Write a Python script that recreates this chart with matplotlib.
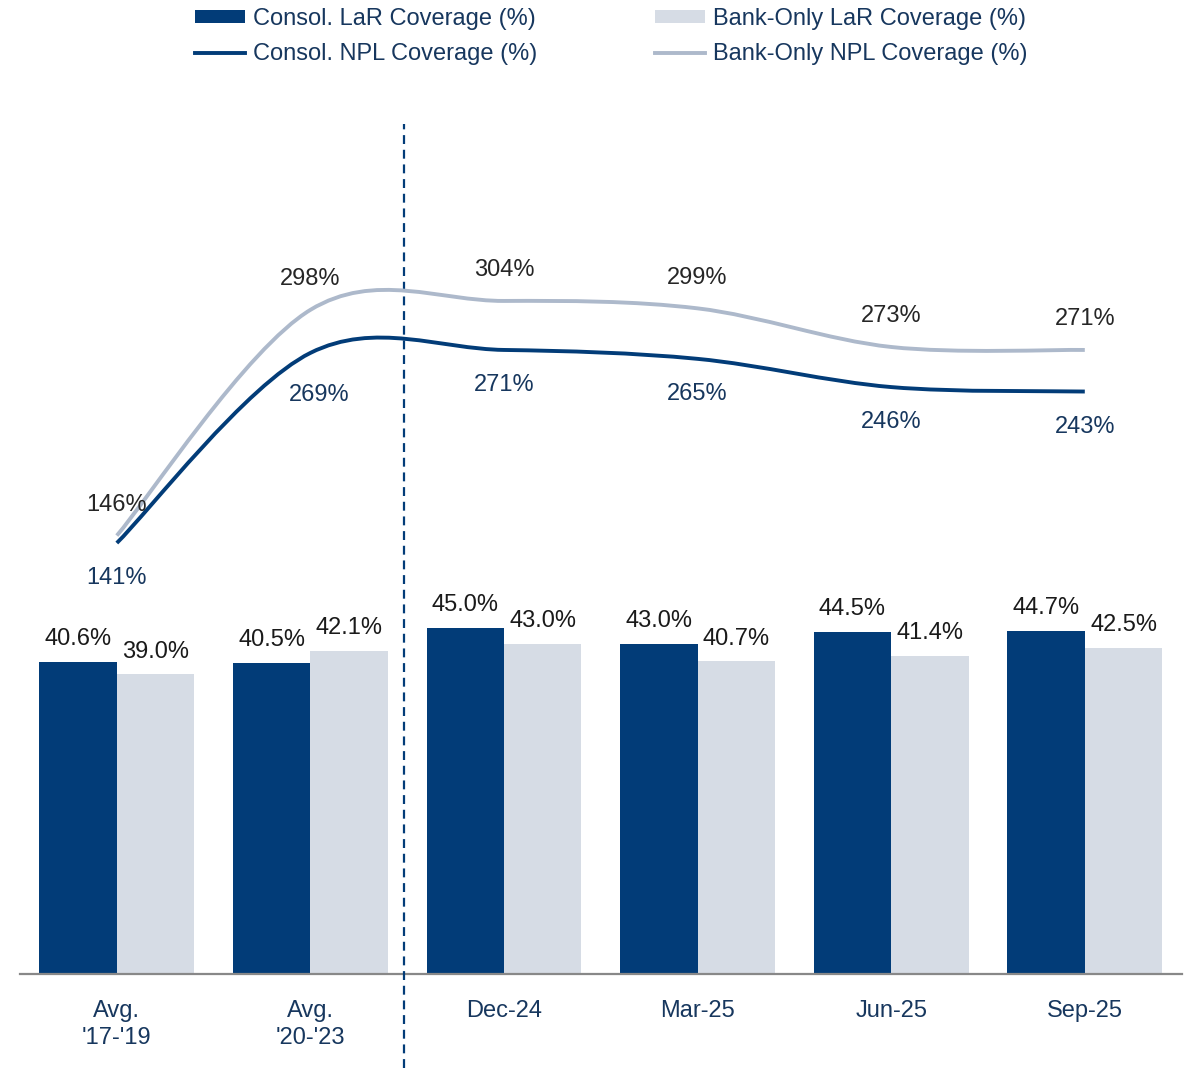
import matplotlib
matplotlib.use("Agg")
import matplotlib.pyplot as plt
from matplotlib.path import Path
from matplotlib.patches import PathPatch, Patch
from matplotlib.lines import Line2D
import numpy as np

plt.rcParams['font.family'] = ['Liberation Sans', 'DejaVu Sans']

categories = ["Avg.\n'17-'19", "Avg.\n'20-'23", "Dec-24", "Mar-25", "Jun-25", "Sep-25"]
consol_lar = [40.6, 40.5, 45.0, 43.0, 44.5, 44.7]
bank_lar = [39.0, 42.1, 43.0, 40.7, 41.4, 42.5]
consol_npl = [141, 269, 271, 265, 246, 243]
bank_npl = [146, 298, 304, 299, 273, 271]

NAVY = '#023C78'
LIGHT_BAR = '#D6DCE5'
LIGHT_LINE = '#ADB9CB'
TXT_NAVY = '#17375E'
TXT_DARK = '#262626'

fig = plt.figure(figsize=(11.86, 10.68), dpi=100)
W, H = 1186, 1068
ax = fig.add_axes([20 / W, 1 - 974 / H, 1161.6 / W, 874 / H])
ax2 = ax.twinx()

x = np.arange(len(categories))
bw = 0.40
b1 = ax.bar(x - bw / 2, consol_lar, bw, color=NAVY, zorder=2)
b2 = ax.bar(x + bw / 2, bank_lar, bw, color=LIGHT_BAR, zorder=2)
for rect, v in zip(list(b1) + list(b2), consol_lar + bank_lar):
    ax.annotate(f"{v:.1f}%", (rect.get_x() + rect.get_width() / 2, rect.get_height()),
                xytext=(0, 16.5), textcoords='offset points', ha='center', va='center',
                fontsize=17, color='#1A1A1A')

ax.set_xlim(-0.5, 5.5)
ax.set_ylim(0, 113.8)
ax2.set_ylim(-149.2, 439.3)


def smooth_path(xs, ys):
    pts = np.column_stack([xs, ys]).astype(float)
    n = len(pts)
    verts = [pts[0]]
    codes = [Path.MOVETO]
    for i in range(n - 1):
        p0 = pts[i - 1] if i > 0 else pts[i]
        p1 = pts[i]
        p2 = pts[i + 1]
        p3 = pts[i + 2] if i + 2 < n else pts[i + 1]
        c1 = p1 + (p2 - p0) / 6.0
        c2 = p2 - (p3 - p1) / 6.0
        verts += [c1, c2, p2]
        codes += [Path.CURVE4] * 3
    return Path(verts, codes)


for vals, col in [(bank_npl, LIGHT_LINE), (consol_npl, NAVY)]:
    patch = PathPatch(smooth_path(x, vals), facecolor='none', edgecolor=col,
                      linewidth=2.8, capstyle='butt', zorder=3)
    ax2.add_patch(patch)

for xi, v in zip(x, bank_npl):
    ax2.annotate(f"{v}%", (xi, v), xytext=(0, 22), textcoords='offset points',
                 ha='center', va='center', fontsize=17, color=TXT_DARK)
for i, (xi, v) in enumerate(zip(x, consol_npl)):
    dx, dy = (6, -30) if i == 1 else (0, -25.5)
    ax2.annotate(f"{v}%", (xi, v), xytext=(dx, dy), textcoords='offset points',
                 ha='center', va='center', fontsize=17, color=TXT_NAVY)

# separator
trans = matplotlib.transforms.blended_transform_factory(ax.transData, ax.transAxes)
ax.plot([1.482, 1.482], [-0.1076, 0.9725], transform=trans, color=NAVY,
        linewidth=1.6, linestyle=(0, (4, 2.6)), clip_on=False, zorder=4)

for a in (ax, ax2):
    for s in ['top', 'right', 'left']:
        a.spines[s].set_visible(False)
    a.set_yticks([])
ax2.spines['bottom'].set_visible(False)
ax.spines['bottom'].set_color('#888888')
ax.spines['bottom'].set_linewidth(1.6)
ax.set_xticks(x)
ax.set_xticklabels(categories, fontsize=17, color=TXT_NAVY, linespacing=1.32)
ax.tick_params(axis='x', length=0, pad=18.5)

handles = [Patch(facecolor=NAVY, edgecolor='none'),
           Line2D([], [], color=NAVY, linewidth=2.8),
           Patch(facecolor=LIGHT_BAR, edgecolor='none'),
           Line2D([], [], color=LIGHT_LINE, linewidth=2.8)]
labels = ["Consol. LaR Coverage (%)", "Consol. NPL Coverage (%)",
          "Bank-Only LaR Coverage (%)", "Bank-Only NPL Coverage (%)"]
leg = fig.legend(handles, labels, loc='upper left', bbox_to_anchor=(195 / W, 1 - 8 / H),
                 ncol=2, frameon=False, fontsize=17, handlelength=2.1, handleheight=0.5,
                 handletextpad=0.35, columnspacing=5.0, labelspacing=0.56, borderpad=0,
                 borderaxespad=0)
for t in leg.get_texts():
    t.set_color(TXT_NAVY)

fig.savefig("out.png", dpi=100)
